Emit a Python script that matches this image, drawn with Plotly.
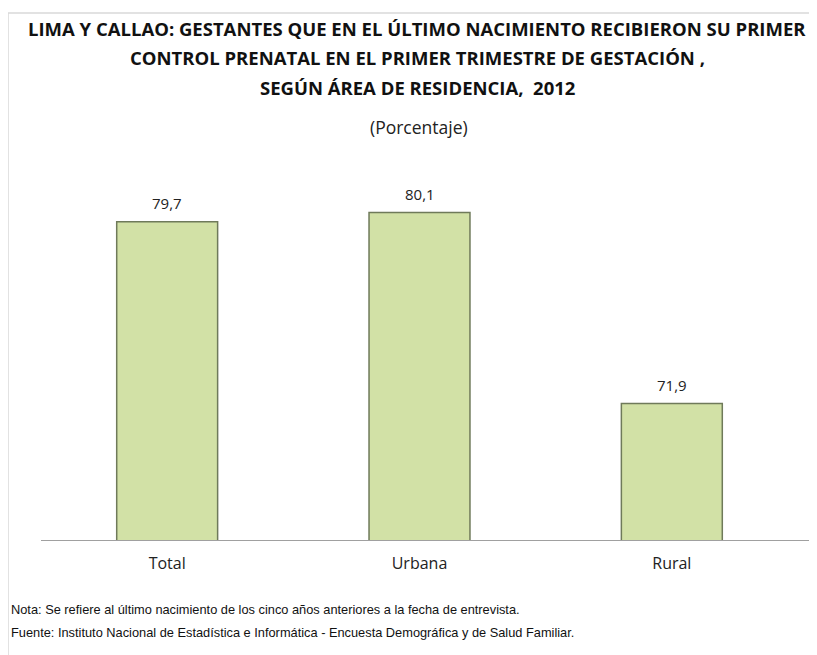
import plotly.graph_objects as go

areas = ['Total', 'Urbana', 'Rural']
porcentaje = [79.7, 80.1, 71.9]
etiquetas = ['79,7', '80,1', '71,9']

titulo = ['LIMA Y CALLAO: GESTANTES QUE EN EL ÚLTIMO NACIMIENTO RECIBIERON SU PRIMER',
          'CONTROL PRENATAL EN EL PRIMER TRIMESTRE DE GESTACIÓN ,',
          'SEGÚN ÁREA DE RESIDENCIA,  2012']
nota = 'Nota: Se refiere al último nacimiento de los cinco años anteriores a la fecha de entrevista.'
fuente = 'Fuente: Instituto Nacional de Estadística e Informática - Encuesta Demográfica y de Salud Familiar.'

W, H = 817, 655
OFF = 8  # margen del body en la página
# posiciones en píxeles de la captura (se descuenta OFF)
L, T = 41 - OFF, 145 - OFF
R = W - (798 - OFF)
B = H - (541 - OFF)
ph = H - T - B
pw = W - L - R

def py(p):
    return (H - B - (p - OFF)) / ph

def px_(p):
    return (p - OFF - L) / pw

fig = go.Figure()
fig.add_trace(go.Bar(
    x=areas, y=porcentaje, base=0, width=0.4,
    marker=dict(color='#d2e1a6', line=dict(color='#6f7a5a', width=1.5)),
    hoverinfo='skip', showlegend=False
))

# valores sobre las barras
for a, v, t in zip(areas, porcentaje, etiquetas):
    fig.add_annotation(x=a, y=v, text=t, showarrow=False, yanchor='bottom', yshift=7,
                       font=dict(family='Open Sans', size=15, color='#222222'))

font_t = dict(family='Open Sans', size=18.5, color='#111111')
for i, linea in enumerate(titulo):
    fig.add_annotation(xref='paper', yref='paper', x=px_(417), y=py(29 + 29 * i), yanchor='middle',
                       text='<b>' + linea + '</b>', showarrow=False, font=font_t)
fig.add_annotation(xref='paper', yref='paper', x=px_(419), y=py(127), yanchor='middle',
                   text='(Porcentaje)', showarrow=False,
                   font=dict(family='Open Sans', size=17.5, color='#222222'))
fnota = dict(family='Liberation Sans', size=12.8, color='#111111')
fig.add_annotation(xref='paper', yref='paper', x=px_(9), y=py(609), xanchor='left', yanchor='middle',
                   text=nota, showarrow=False, font=fnota)
fig.add_annotation(xref='paper', yref='paper', x=px_(9), y=py(632), xanchor='left', yanchor='middle',
                   text=fuente, showarrow=False, font=fnota)

# marco del gráfico
fig.add_shape(type='rect', xref='paper', yref='paper', x0=px_(8), x1=px_(840), y0=py(720), y1=py(13),
              line=dict(color='#d9d9d9', width=1.5), layer='below')
# línea base
fig.add_shape(type='line', xref='paper', yref='y', x0=px_(41), x1=px_(810), y0=66, y1=66,
              line=dict(color='#a0a0a0', width=2))

fig.update_layout(
    width=W, height=H,
    margin=dict(l=L, r=R, t=T, b=B),
    paper_bgcolor='white', plot_bgcolor='white',
    xaxis=dict(showline=False, showgrid=False, ticks='', tickfont=dict(family='Open Sans', size=16, color='#222222'),
               ticklabelstandoff=11),
    yaxis=dict(range=[66, 83], visible=False),
)

fig.write_html('out.html')
